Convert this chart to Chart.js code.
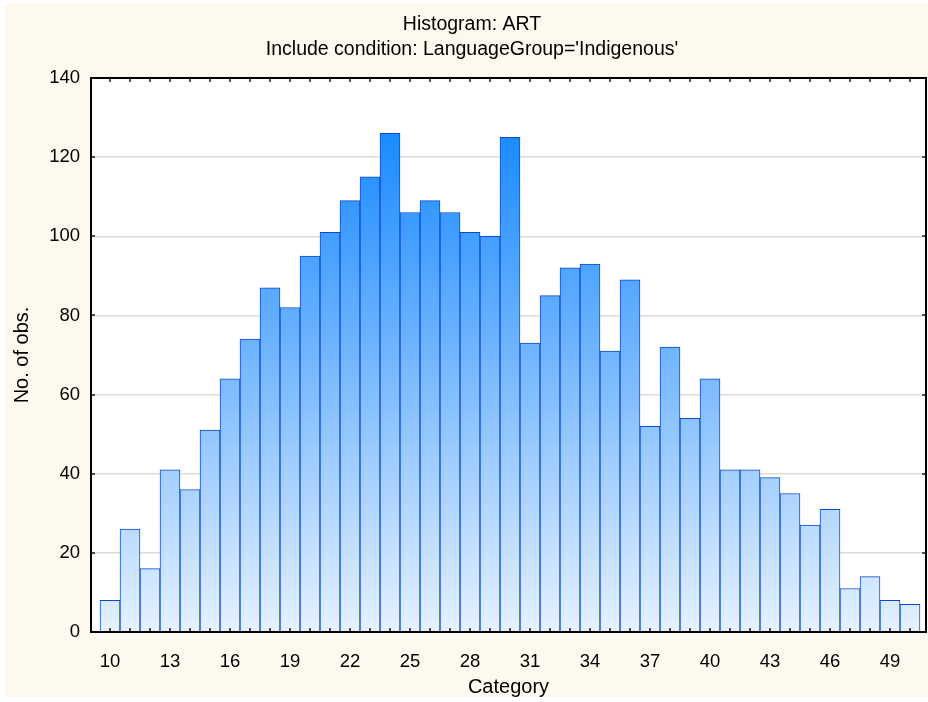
<!DOCTYPE html>
<html>
<head>
<meta charset="utf-8">
<script src="https://cdn.jsdelivr.net/npm/chart.js@4.4.1/dist/chart.umd.min.js"></script>
<style>
  html, body { margin: 0; padding: 0; background: #fff; }
  #wrap { width: 928px; height: 702px; }
</style>
</head>
<body>
<div id="wrap"><canvas id="hist"></canvas></div>
<script>
// histogram bins (category) and their counts
const categories = [10, 11, 12, 13, 14, 15, 16, 17, 18, 19, 20, 21, 22, 23, 24, 25, 26, 27, 28, 29,
                    30, 31, 32, 33, 34, 35, 36, 37, 38, 39, 40, 41, 42, 43, 44, 45, 46, 47, 48, 49, 50];
const counts = [8, 26, 16, 41, 36, 51, 64, 74, 87, 82, 95, 101, 109, 115, 126, 106, 109, 106, 101, 100,
                125, 73, 85, 92, 93, 71, 89, 52, 72, 54, 64, 41, 41, 39, 35, 27, 31, 11, 14, 8, 7];
const xLabels = [10, 13, 16, 19, 22, 25, 28, 31, 34, 37, 40, 43, 46, 49];
const yTicks = [0, 20, 40, 60, 80, 100, 120, 140];
const titleLines = ['Histogram: ART', "Include condition: LanguageGroup='Indigenous'"];

const FONT = 'Liberation Sans, Arial, Helvetica, sans-serif';

function barFill(context) {
    const { ctx, chartArea } = context.chart;
    if (!chartArea) return '#7ab8ff';
    const g = ctx.createLinearGradient(0, chartArea.bottom, 0, chartArea.top);
    g.addColorStop(0, '#e6f2ff');
    g.addColorStop(0.5, '#72b5ff');
    g.addColorStop(0.9, '#1a8bff');
    g.addColorStop(1, '#1486ff');
    return g;
}

// cream page, white plot box, title, inward tick marks and the frame
const frame = {
    id: 'frame',
    beforeDraw(chart) {
        const { ctx, width, height, chartArea: a } = chart;
        ctx.save();
        ctx.fillStyle = '#fff';
        ctx.fillRect(0, 0, width, height);
        ctx.fillStyle = '#fdf9ee';
        ctx.fillRect(5, 3, width - 5, height - 8);
        ctx.fillStyle = '#fff';
        ctx.fillRect(a.left, a.top, a.right - a.left, a.bottom - a.top);
        ctx.fillStyle = '#000';
        ctx.font = '19.5px ' + FONT;
        ctx.textAlign = 'center';
        ctx.textBaseline = 'middle';
        ctx.fillText(titleLines[0], 472, 25);
        ctx.fillText(titleLines[1], 472, 49.5);
        ctx.restore();
    },
    afterDatasetsDraw(chart) {
        const { ctx, chartArea: a, scales: { x, y } } = chart;
        ctx.save();
        ctx.strokeStyle = '#222';
        ctx.lineWidth = 1.5;
        ctx.beginPath();
        x.ticks.forEach(t => {
            const px = Math.round(x.getPixelForValue(t.value));
            ctx.moveTo(px, a.bottom); ctx.lineTo(px, a.bottom - 4);
            ctx.moveTo(px, a.top); ctx.lineTo(px, a.top + 4);
        });
        y.ticks.forEach(t => {
            const py = Math.round(y.getPixelForValue(t.value));
            ctx.moveTo(a.left, py); ctx.lineTo(a.left + 4, py);
            ctx.moveTo(a.right, py); ctx.lineTo(a.right - 4, py);
        });
        ctx.stroke();
        ctx.strokeStyle = '#000';
        ctx.lineWidth = 2;
        ctx.strokeRect(a.left, a.top, a.right - a.left, a.bottom - a.top);
        ctx.restore();
    }
};

new Chart(document.getElementById('hist'), {
    type: 'bar',
    data: {
        datasets: [{
            data: categories.map((c, i) => ({ x: c, y: counts[i] })),
            backgroundColor: barFill,
            borderColor: '#0b4ad4',
            borderWidth: 1,
            barPercentage: 1,
            categoryPercentage: 1
        }]
    },
    options: {
        responsive: true,
        maintainAspectRatio: false,
        animation: false,
        layout: { padding: { top: 78, right: 2 } },
        plugins: {
            legend: { display: false },
            tooltip: { enabled: false },
            title: { display: false }
        },
        scales: {
            x: {
                type: 'linear',
                offset: false,
                min: 9.05,
                max: 50.8,
                afterBuildTicks: s => { s.ticks = categories.map(v => ({ value: v })); },
                afterFit: s => { s.height = 70; s.paddingLeft = 0; s.paddingRight = 0; },
                grid: { display: false, offset: false },
                border: { display: false },
                ticks: {
                    autoSkip: false,
                    maxRotation: 0,
                    padding: 11,
                    color: '#000',
                    font: { family: FONT, size: 18.5 },
                    callback: v => xLabels.includes(v) ? String(v) : ''
                },
                title: {
                    display: true,
                    text: 'Category',
                    color: '#000',
                    font: { family: FONT, size: 20 },
                    padding: { top: 0, bottom: 3 }
                }
            },
            y: {
                min: 0,
                max: 140,
                afterBuildTicks: s => { s.ticks = yTicks.map(v => ({ value: v })); },
                afterFit: s => { s.width = 91; },
                grid: { color: '#dcdcdc', lineWidth: 1.5, drawTicks: false },
                border: { display: false },
                ticks: { padding: 11, color: '#000', font: { family: FONT, size: 18.5 } },
                title: {
                    display: true,
                    text: 'No. of obs.',
                    color: '#000',
                    font: { family: FONT, size: 20 },
                    padding: { top: 10, bottom: 0 }
                }
            }
        }
    },
    plugins: [frame]
});
</script>
</body>
</html>
